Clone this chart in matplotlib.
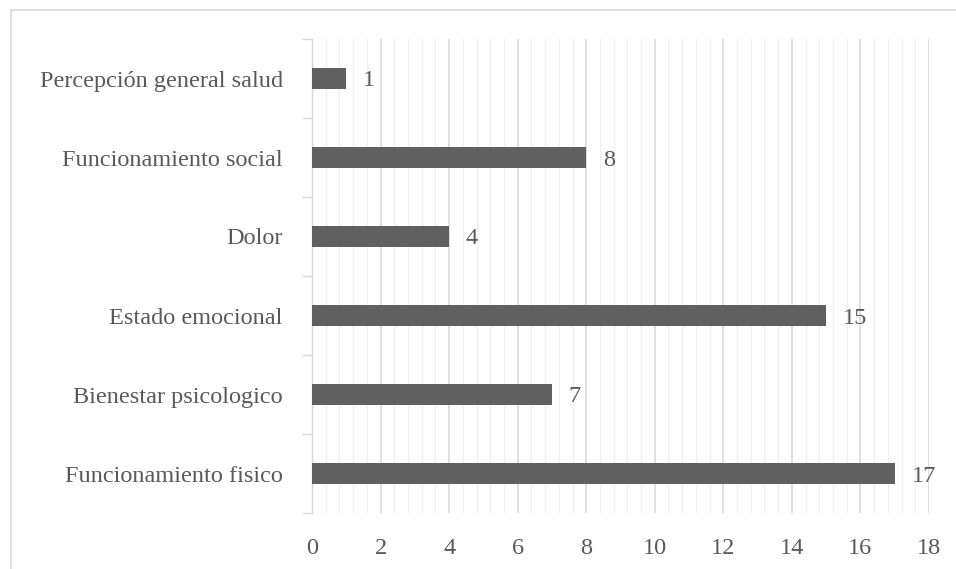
import matplotlib
matplotlib.use("Agg")
import matplotlib.pyplot as plt
from matplotlib.lines import Line2D
from matplotlib.ticker import MultipleLocator, FixedLocator

categories = ["Funcionamiento fisico", "Bienestar psicologico", "Estado emocional",
              "Dolor", "Funcionamiento social", "Percepción general salud"]
values = [17, 7, 15, 4, 8, 1]
xticks = [0, 2, 4, 6, 8, 10, 12, 14, 16, 18]

W, H = 956, 569
fig = plt.figure(figsize=(W / 100, H / 100), dpi=100)
plt.rcParams['font.family'] = ['Liberation Serif', 'DejaVu Serif']
txt = '#595959'
fs = 17.5

ax = fig.add_axes([312 / W, 1 - 513 / H, (929 - 312) / W, (513 - 39) / H])
ypos = list(range(len(categories)))
ax.barh(ypos, values, height=0.27, color='#606060', zorder=3)
ax.set_xlim(0, 18)
ax.set_ylim(-0.5, len(categories) - 0.5)

ax.xaxis.set_major_locator(FixedLocator(xticks))
ax.xaxis.set_minor_locator(MultipleLocator(0.4))
ax.grid(axis='x', which='major', color='#d9d9d9', linewidth=1.2, zorder=0)
ax.grid(axis='x', which='minor', color='#f0f0f0', linewidth=1.0, zorder=0)
ax.tick_params(axis='x', which='both', length=0, pad=18, labelsize=fs, labelcolor=txt)

ax.set_yticks(ypos)
ax.set_yticklabels(categories)
ax.yaxis.set_minor_locator(FixedLocator([i - 0.5 for i in range(len(categories) + 1)]))
ax.tick_params(axis='y', which='major', length=0, pad=21, labelsize=fs, labelcolor=txt)
ax.tick_params(axis='y', which='minor', length=7, width=1, color='#d9d9d9')

for s in ['top', 'right', 'bottom']:
    ax.spines[s].set_visible(False)
ax.spines['left'].set_color('#d9d9d9')
ax.spines['left'].set_linewidth(1)

for y, v in zip(ypos, values):
    ax.annotate(str(v), (v, y), xytext=(12, 0), textcoords='offset points',
                va='center_baseline', ha='left', fontsize=fs, color=txt)

# outer chart border (partially cropped)
fig.add_artist(Line2D([10.5 / W, 10.5 / W], [0, 1 - 9.5 / H], transform=fig.transFigure,
                      color='#d9d9d9', linewidth=1.2))
fig.add_artist(Line2D([10.5 / W, 1], [1 - 9.5 / H, 1 - 9.5 / H], transform=fig.transFigure,
                      color='#d9d9d9', linewidth=1.2))

fig.savefig('out.png', dpi=100)
